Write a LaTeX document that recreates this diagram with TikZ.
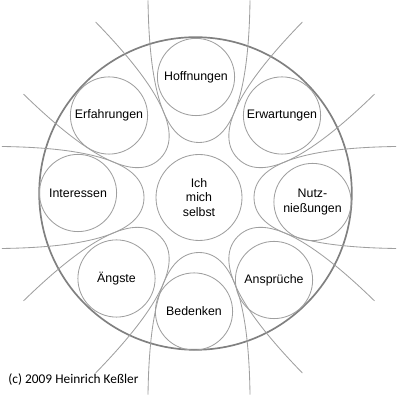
\documentclass[tikz,border=0pt]{standalone}
\usepackage{fontspec}
\setmainfont{Liberation Sans}
\newfontfamily\notefont{Carlito}
\usepackage{tikz}
\usetikzlibrary{positioning}

\begin{document}
\begin{tikzpicture}[every node/.style={circle, draw=gray!75, line width=0.6pt, minimum size=1.93cm, inner sep=0pt, align=center, font=\fontsize{8.8}{10.6}\selectfont}]
\useasboundingbox (0,0) rectangle (10,10);
\draw [gray, line width=1.2pt] (4.8875,5.1625) circle (3.9075);
\node (self) [minimum size=2.15cm] at (4.975,5.0625) {Ich\\mich\\selbst};
\node (hope) at (4.90,8.075) {Hoffnungen};
\node (expect) at (7.05,7.1125) {Erwartungen};
\node (benefit) at (7.8125,4.95) {Nutz-\\nießungen};
\node (claim) at (6.85,3.0) {Ansprüche};
\node (doubt) at (4.85,2.2125) {Bedenken};
\node (fear) at (2.9125,3.0375) {Ängste};
\node (interest) at (1.95,5.175) {Interessen};
\node (exper) at (2.725,7.1125) {Erfahrungen};

% loops round the outer circles
\foreach \ang in {0,45,...,315}
  \draw [gray!75, line width=0.6pt, shift={(self.center)}, rotate=\ang]
    (4.93,-1.275) .. controls (3.125,-1.25) and (1.375,-1.0) .. (1.375,0)
    .. controls (1.375,1.0) and (3.125,1.25) .. (4.93,1.275);

\node (credit) [draw=none, rectangle, minimum size=0pt, anchor=base west, font=\notefont\fontsize{9.5}{11}\selectfont] at (0.2,0.425) {(c) 2009 Heinrich Keßler};
\end{tikzpicture}
\end{document}
